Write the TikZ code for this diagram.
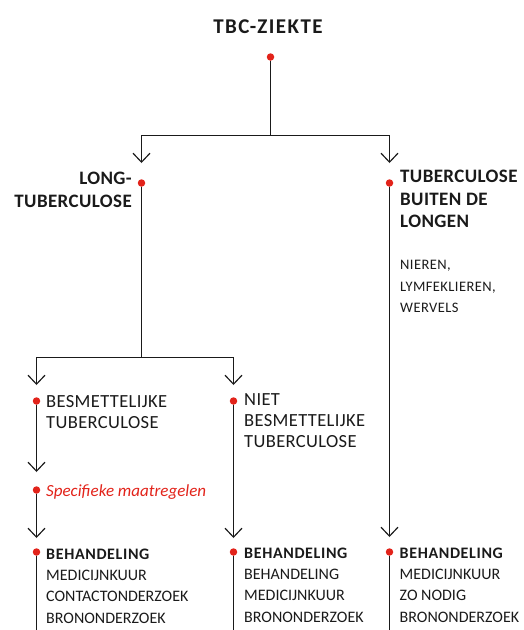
\documentclass[tikz,border=0pt]{standalone}
\usepackage{fontspec}
\setmainfont{Carlito}
\usetikzlibrary{arrows.meta}
\definecolor{dotred}{HTML}{E2231A}
\definecolor{ink}{HTML}{1A1A1A}
\newcommand\behfont{\bfseries\addfontfeatures{LetterSpace=4}}
\begin{document}
\begin{tikzpicture}[x=1pt,y=-1pt,
  dot/.style={circle,fill=dotred,inner sep=0pt,minimum size=7.5pt},
  ln/.style={draw=ink,line width=1.15pt},
  arr/.style={ln,-{Straight Barb[length=9pt,width=17pt,line width=1.15pt]}},
  txt/.style={inner sep=0pt,text=ink},
  hdr/.style={txt,font=\fontsize{19}{22.5}\selectfont\bfseries\addfontfeatures{LetterSpace=2}},
  mid/.style={txt,font=\fontsize{18.5}{21}\selectfont\addfontfeatures{LetterSpace=2},align=left,anchor=north west},
  lst/.style={txt,font=\fontsize{16}{21.3}\selectfont,align=left,anchor=north west},
  sml/.style={txt,font=\fontsize{14.5}{21.5}\selectfont\addfontfeatures{LetterSpace=3},align=left,anchor=north west}
]
\useasboundingbox (0,0) rectangle (523,630);

% dots
\node[dot] (d0) at (270.5,57) {};
\node[dot] (dL) at (141.5,183) {};
\node[dot] (dR) at (389.5,183) {};
\node[dot] (dB) at (36.5,401) {};
\node[dot] (dN) at (233.5,401) {};
\node[dot] (dS) at (36.5,490) {};
\node[dot] (dB1) at (36.5,552) {};
\node[dot] (dB2) at (233.5,552) {};
\node[dot] (dB3) at (389.5,552) {};

% junction and tip coordinates
\coordinate (j0) at (270.5,135.5);
\coordinate (tL) at (141.5,163);
\coordinate (tR) at (389.5,163);
\coordinate (j1) at (141.5,357.5);
\coordinate (tB) at (36.5,385);
\coordinate (tN) at (233.5,385);
\coordinate (tS) at (36.5,472);
\coordinate (tB1) at (36.5,538);
\coordinate (tB2) at (233.5,538);
\coordinate (tB3) at (389.5,537);
\coordinate (e1) at (36.5,630);
\coordinate (e2) at (233.5,630);
\coordinate (e3) at (389.5,630);

% texts
\node[txt,font=\fontsize{21}{22}\selectfont\bfseries\addfontfeatures{LetterSpace=7}] (title) at (268,26.5) {TBC-ZIEKTE};
\node[hdr,align=right,anchor=north east] (long) at (132,172) {LONG-\\TUBERCULOSE};
\node[hdr,align=left,anchor=north west] (buiten) at (400,170) {TUBERCULOSE\\BUITEN DE\\LONGEN};
\node[sml] (organen) at (400,260) {NIEREN,\\LYMFEKLIEREN,\\WERVELS};
\node[mid] (besm) at (46,395) {BESMETTELIJKE\\TUBERCULOSE};
\node[mid] (niet) at (244,393.5) {NIET\\BESMETTELIJKE\\TUBERCULOSE};
\node[txt,text=dotred,font=\fontsize{17}{18}\selectfont\itshape,anchor=base west] (spec) at (46,496.5) {Specifieke maatregelen};
\node[lst] (beh1) at (46,548.5) {{\behfont BEHANDELING}\\MEDICIJNKUUR\\CONTACTONDERZOEK\\BRONONDERZOEK};
\node[lst] (beh2) at (244,547.5) {{\behfont BEHANDELING}\\BEHANDELING\\MEDICIJNKUUR\\BRONONDERZOEK};
\node[lst] (beh3) at (399.5,547.5) {{\behfont BEHANDELING}\\MEDICIJNKUUR\\ZO NODIG\\BRONONDERZOEK};

% connectors
\draw[ln] (d0.south) -- (j0);
\draw[arr] (j0) -| (tL);
\draw[arr] (j0) -| (tR);
\draw[ln] (dL.south) -- (j1);
\draw[arr] (j1) -| (tB);
\draw[arr] (j1) -| (tN);
\draw[arr] (dB.south) -- (tS);
\draw[arr] (dS.south) -- (tB1);
\draw[arr] (dN.south) -- (tB2);
\draw[arr] (dR.south) -- (tB3);
\draw[ln] (dB1.south) -- (e1);
\draw[ln] (dB2.south) -- (e2);
\draw[ln] (dB3.south) -- (e3);
\end{tikzpicture}
\end{document}
